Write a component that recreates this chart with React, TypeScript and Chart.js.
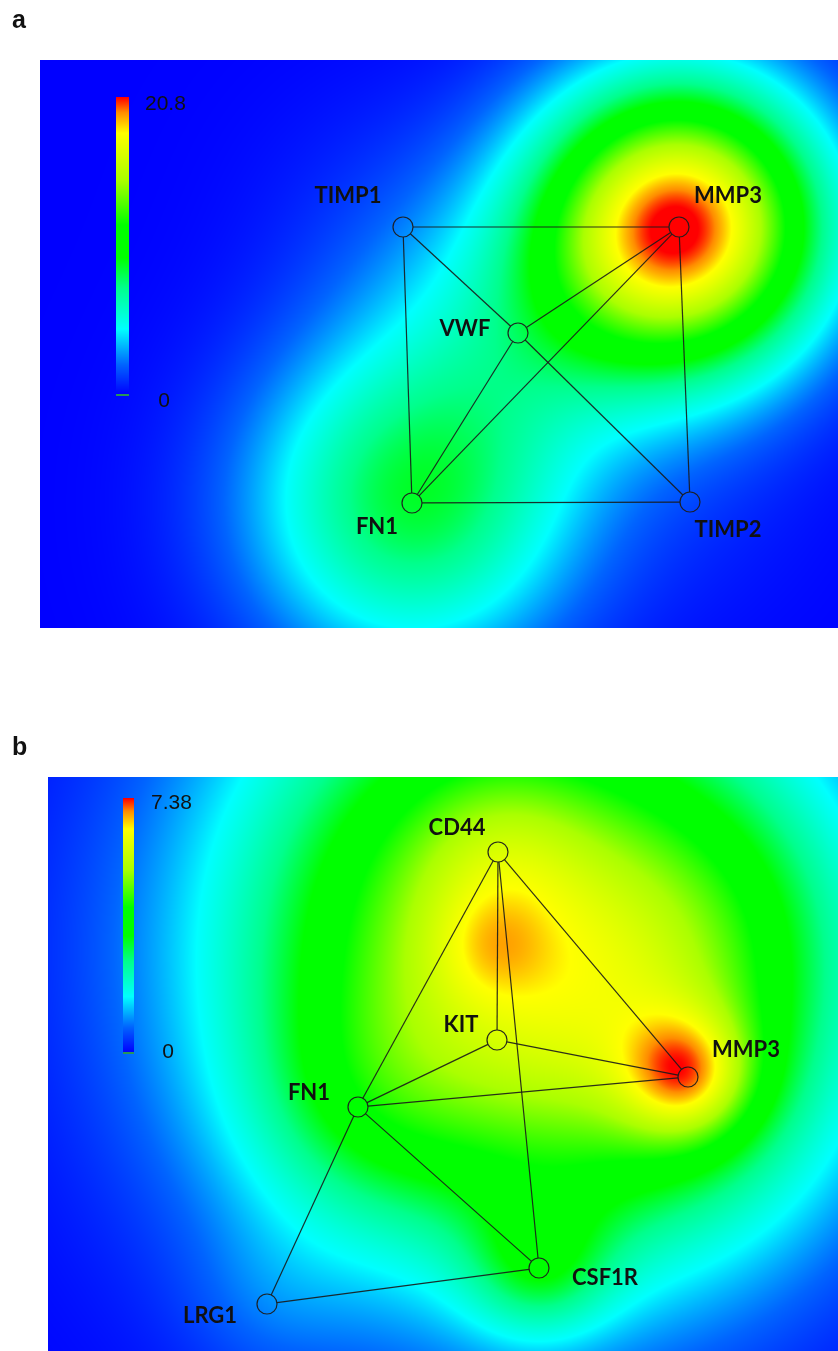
import React, { useEffect, useRef } from "react";
import { Chart, registerables } from "chart.js";
Chart.register(...registerables);

// ---------------- Panel a : network layout + heat field ----------------
const aGenes = ["TIMP1", "MMP3", "VWF", "FN1", "TIMP2"];
const aNodeX = [363, 639, 478, 372, 650];
const aNodeY = [167, 167, 273, 443, 442];
const aEdgeFrom = ["TIMP1", "TIMP1", "TIMP1", "VWF", "VWF", "VWF", "FN1", "FN1", "MMP3"];
const aEdgeTo = ["MMP3", "FN1", "VWF", "TIMP2", "MMP3", "FN1", "MMP3", "TIMP2", "TIMP2"];
const aHeatX = [639, 372, 478, 363, 650];
const aHeatY = [167, 443, 273, 167, 442];
const aHeatValue = [20.8, 8.5, 3.0, 0.8, 0.5];
const aHeatSpreadX = [100, 112, 100, 100, 100];
const aHeatSpreadY = [100, 112, 100, 100, 100];
const aScaleMin = 0;
const aScaleMax = 20.8;
const aScaleLabels = ["20.8", "0"];

// ---------------- Panel b ----------------
const bGenes = ["CD44", "KIT", "MMP3", "FN1", "CSF1R", "LRG1"];
const bNodeX = [450, 449, 640, 310, 491, 219];
const bNodeY = [75, 263, 300, 330, 491, 527];
const bEdgeFrom = ["CD44", "CD44", "CD44", "CD44", "KIT", "KIT", "FN1", "FN1", "FN1", "LRG1"];
const bEdgeTo = ["FN1", "MMP3", "KIT", "CSF1R", "FN1", "MMP3", "MMP3", "CSF1R", "LRG1", "CSF1R"];
const bHeatX = [460, 442, 640, 640, 491, 310, 219, 450, 690];
const bHeatY = [173, 170, 300, 300, 491, 330, 527, 75, 120];
const bHeatValue = [5.76, 0.59, 1.48, 2.44, 1.55, 0.74, 0.3, 0.59, 0.89];
const bHeatSpreadX = [195, 40, 130, 45, 50, 80, 60, 60, 110];
const bHeatSpreadY = [210, 40, 130, 45, 50, 80, 60, 60, 110];
const bScaleMin = 0;
const bScaleMax = 7.38;
const bScaleLabels = ["7.38", "0"];

// ---------------- styles ----------------
const cmapPos = [0, 0.1, 0.22, 0.36, 0.46, 0.57, 0.72, 0.88, 0.95, 1];
const cmapRGB = [
  [0, 0, 255], [0, 100, 255], [0, 255, 255], [0, 255, 140], [0, 255, 0],
  [0, 255, 0], [170, 255, 0], [255, 255, 0], [255, 140, 0], [255, 0, 0],
];

function cmap(t: number): number[] {
  if (t <= 0) return cmapRGB[0];
  if (t >= 1) return cmapRGB[cmapRGB.length - 1];
  for (let k = 1; k < cmapPos.length; k++) {
    if (t <= cmapPos[k]) {
      const f = (t - cmapPos[k - 1]) / (cmapPos[k] - cmapPos[k - 1]);
      const a = cmapRGB[k - 1], b = cmapRGB[k];
      return [a[0] + (b[0] - a[0]) * f, a[1] + (b[1] - a[1]) * f, a[2] + (b[2] - a[2]) * f];
    }
  }
  return cmapRGB[cmapRGB.length - 1];
}

const LABEL_FONT = 'bold 22px Lato, "DejaVu Sans", sans-serif';
const SCALE_FONT = '21px "Liberation Sans", Arial, sans-serif';
const LETTER_FONT = 'bold 25px "Liberation Sans", Arial, sans-serif';

const networkPlugin = {
  id: "network",
  beforeDatasetsDraw(chart: any) {
    const o = chart.options.plugins.network;
    const { ctx, chartArea: ca, scales } = chart;
    const w = Math.round(ca.right - ca.left);
    const h = Math.round(ca.bottom - ca.top);
    const n = o.heatX.length;
    const ex: Float32Array[] = [];
    const ey: Float32Array[] = [];
    for (let k = 0; k < n; k++) {
      const sx2 = 2 * o.heatSpreadX[k] * o.heatSpreadX[k];
      const sy2 = 2 * o.heatSpreadY[k] * o.heatSpreadY[k];
      const rx = new Float32Array(w);
      for (let i = 0; i < w; i++) {
        const xv = scales.x.getValueForPixel(ca.left + i + 0.5);
        rx[i] = Math.exp(-((xv - o.heatX[k]) ** 2) / sx2);
      }
      const ry = new Float32Array(h);
      for (let j = 0; j < h; j++) {
        const yv = scales.y.getValueForPixel(ca.top + j + 0.5);
        ry[j] = Math.exp(-((yv - o.heatY[k]) ** 2) / sy2);
      }
      ex.push(rx);
      ey.push(ry);
    }
    const img = ctx.createImageData(w, h);
    const d = img.data;
    const range = o.scaleMax - o.scaleMin;
    for (let j = 0; j < h; j++) {
      for (let i = 0; i < w; i++) {
        let v = 0;
        for (let k = 0; k < n; k++) v += o.heatValue[k] * ex[k][i] * ey[k][j];
        const c = cmap((v - o.scaleMin) / range);
        const p = (j * w + i) * 4;
        d[p] = c[0];
        d[p + 1] = c[1];
        d[p + 2] = c[2];
        d[p + 3] = 255;
      }
    }
    ctx.putImageData(img, Math.round(ca.left), Math.round(ca.top));

    // colour bar
    const cb = o.colorbar;
    const bx = ca.left + cb.dx, by = ca.top + cb.dy;
    for (let j = 0; j < cb.h; j++) {
      const c = cmap(1 - j / (cb.h - 1));
      ctx.fillStyle = `rgb(${c[0] | 0},${c[1] | 0},${c[2] | 0})`;
      ctx.fillRect(bx, by + j, cb.w, 1);
    }
    ctx.fillStyle = "rgb(40,150,90)";
    ctx.fillRect(bx, by + cb.h - 1, cb.w, 2);

    // edges
    const names: string[] = o.genes;
    const r = o.nodeRadius;
    ctx.save();
    ctx.strokeStyle = "rgba(25,25,25,0.9)";
    ctx.lineWidth = 1.2;
    for (let e = 0; e < o.edgeFrom.length; e++) {
      const a = names.indexOf(o.edgeFrom[e]);
      const b = names.indexOf(o.edgeTo[e]);
      const x1 = scales.x.getPixelForValue(o.nodeX[a]);
      const y1 = scales.y.getPixelForValue(o.nodeY[a]);
      const x2 = scales.x.getPixelForValue(o.nodeX[b]);
      const y2 = scales.y.getPixelForValue(o.nodeY[b]);
      const L = Math.hypot(x2 - x1, y2 - y1);
      const ux = (x2 - x1) / L, uy = (y2 - y1) / L;
      ctx.beginPath();
      ctx.moveTo(x1 + ux * r, y1 + uy * r);
      ctx.lineTo(x2 - ux * r, y2 - uy * r);
      ctx.stroke();
    }
    ctx.restore();
  },
  afterDatasetsDraw(chart: any) {
    const o = chart.options.plugins.network;
    const { ctx, chartArea: ca, scales } = chart;
    ctx.save();
    ctx.fillStyle = "#111";
    ctx.font = LABEL_FONT;
    ctx.textAlign = "center";
    ctx.textBaseline = "alphabetic";
    o.genes.forEach((g: string, i: number) => {
      const px = scales.x.getPixelForValue(o.nodeX[i]);
      const py = scales.y.getPixelForValue(o.nodeY[i]);
      ctx.fillText(g, px + o.labelOffsets[i][0], py + o.labelOffsets[i][1]);
    });
    const cb = o.colorbar;
    const bx = ca.left + cb.dx, by = ca.top + cb.dy;
    ctx.font = SCALE_FONT;
    ctx.textAlign = "left";
    ctx.fillText(o.scaleLabels[0], bx + cb.w + cb.topLabelDx, by + cb.topLabelDy);
    ctx.textAlign = "center";
    ctx.fillText(o.scaleLabels[1], bx + cb.w + cb.botLabelDx, by + cb.h + cb.botLabelDy);
    ctx.font = LETTER_FONT;
    ctx.textAlign = "left";
    ctx.fillText(o.letter, o.letterX, o.letterY);
    ctx.restore();
  },
};

function makeConfig(p: any) {
  return {
    type: "scatter",
    data: {
      datasets: [
        {
          data: p.genes.map((_: string, i: number) => ({ x: p.nodeX[i], y: p.nodeY[i] })),
          pointRadius: p.nodeRadius,
          pointHoverRadius: p.nodeRadius,
          pointBackgroundColor: "rgba(0,0,0,0)",
          pointBorderColor: "rgba(30,30,30,0.95)",
          pointBorderWidth: 1.2,
          showLine: false,
          clip: false,
        },
      ],
    },
    options: {
      responsive: false,
      animation: false,
      devicePixelRatio: 1,
      events: [],
      layout: { padding: p.padding, autoPadding: false },
      scales: {
        x: { type: "linear", display: false, min: 0, max: p.xMax },
        y: { type: "linear", display: false, min: 0, max: p.yMax, reverse: true },
      },
      plugins: {
        legend: { display: false },
        tooltip: { enabled: false },
        network: p,
      },
    },
    plugins: [networkPlugin],
  };
}

const panelA = {
  letter: "a", letterX: 12, letterY: 28,
  genes: aGenes, nodeX: aNodeX, nodeY: aNodeY,
  edgeFrom: aEdgeFrom, edgeTo: aEdgeTo,
  heatX: aHeatX, heatY: aHeatY, heatValue: aHeatValue,
  heatSpreadX: aHeatSpreadX, heatSpreadY: aHeatSpreadY,
  scaleMin: aScaleMin, scaleMax: aScaleMax, scaleLabels: aScaleLabels,
  xMax: 798, yMax: 568,
  padding: { left: 40, top: 60, right: 0, bottom: 72 },
  nodeRadius: 10,
  labelOffsets: [[-55, -24], [49, -24], [-53, 3], [-35, 31], [38, 35]],
  colorbar: { dx: 76, dy: 37, w: 13, h: 298, topLabelDx: 16, topLabelDy: 13, botLabelDx: 35, botLabelDy: 12 },
};

const panelB = {
  letter: "b", letterX: 12, letterY: 55,
  genes: bGenes, nodeX: bNodeX, nodeY: bNodeY,
  edgeFrom: bEdgeFrom, edgeTo: bEdgeTo,
  heatX: bHeatX, heatY: bHeatY, heatValue: bHeatValue,
  heatSpreadX: bHeatSpreadX, heatSpreadY: bHeatSpreadY,
  scaleMin: bScaleMin, scaleMax: bScaleMax, scaleLabels: bScaleLabels,
  xMax: 790, yMax: 574,
  padding: { left: 48, top: 77, right: 0, bottom: 0 },
  nodeRadius: 10,
  labelOffsets: [[-41, -17], [-36, -8], [58, -20], [-49, -7], [66, 17], [-57, 19]],
  colorbar: { dx: 75, dy: 21, w: 11, h: 255, topLabelDx: 17, topLabelDy: 11, botLabelDx: 34, botLabelDy: 5 },
};

function Panel({ p, top, height }: { p: any; top: number; height: number }) {
  const ref = useRef<HTMLCanvasElement>(null);
  useEffect(() => {
    const chart = new Chart(ref.current as HTMLCanvasElement, makeConfig(p) as any);
    return () => chart.destroy();
  }, []);
  return (
    <canvas
      ref={ref}
      width={838}
      height={height}
      style={{ position: "absolute", left: 0, top, width: 838, height, display: "block" }}
    />
  );
}

export default function App() {
  return (
    <div style={{ position: "absolute", left: 0, top: 0, width: 838, height: 1351, background: "#fff", overflow: "hidden" }}>
      <Panel p={panelA} top={0} height={700} />
      <Panel p={panelB} top={700} height={651} />
    </div>
  );
}
